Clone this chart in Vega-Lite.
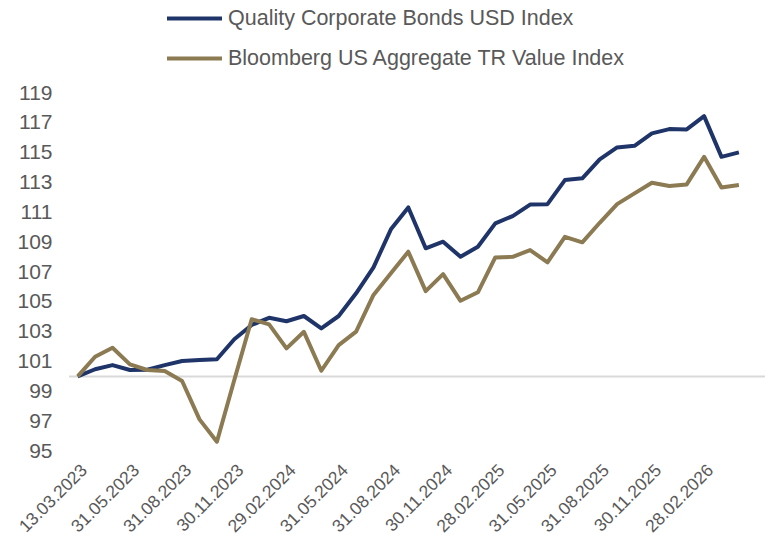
{
  "$schema": "https://vega.github.io/schema/vega-lite/v6.json",
  "width": 696,
  "height": 358,
  "autosize": "none",
  "padding": {"left": 69, "top": 93, "right": 8, "bottom": 88},
  "background": "white",
  "config": {"font": "Liberation Sans", "view": {"stroke": null}, "axis": {"labelOverlap": false}},
  "layer": [
    {
      "data": {"values": [{"base": 100}]},
      "mark": {"type": "rule", "color": "#d9d9d9", "strokeWidth": 2},
      "encoding": {"y": {"field": "base", "type": "quantitative", "scale": {"domain": [95, 119], "nice": false, "zero": false},
        "axis": {
            "values": [95,97,99,101,103,105,107,109,111,113,115,117,119],
            "grid": false, "domain": false, "ticks": false, "labelOverlap": false,
            "labelFontSize": 21, "labelColor": "#595959", "labelPadding": 17, "title": null
          }}}
    },
    {
      "data": {"values": [
        {"date": "13.03.2023", "series": "Quality Corporate Bonds USD Index", "value": 100},
        {"date": "31.03.2023", "series": "Quality Corporate Bonds USD Index", "value": 100.48},
        {"date": "30.04.2023", "series": "Quality Corporate Bonds USD Index", "value": 100.76},
        {"date": "31.05.2023", "series": "Quality Corporate Bonds USD Index", "value": 100.43},
        {"date": "30.06.2023", "series": "Quality Corporate Bonds USD Index", "value": 100.45},
        {"date": "31.07.2023", "series": "Quality Corporate Bonds USD Index", "value": 100.76},
        {"date": "31.08.2023", "series": "Quality Corporate Bonds USD Index", "value": 101.03},
        {"date": "30.09.2023", "series": "Quality Corporate Bonds USD Index", "value": 101.1},
        {"date": "31.10.2023", "series": "Quality Corporate Bonds USD Index", "value": 101.15},
        {"date": "30.11.2023", "series": "Quality Corporate Bonds USD Index", "value": 102.49},
        {"date": "31.12.2023", "series": "Quality Corporate Bonds USD Index", "value": 103.45},
        {"date": "31.01.2024", "series": "Quality Corporate Bonds USD Index", "value": 103.93},
        {"date": "29.02.2024", "series": "Quality Corporate Bonds USD Index", "value": 103.7},
        {"date": "31.03.2024", "series": "Quality Corporate Bonds USD Index", "value": 104.05},
        {"date": "30.04.2024", "series": "Quality Corporate Bonds USD Index", "value": 103.22},
        {"date": "31.05.2024", "series": "Quality Corporate Bonds USD Index", "value": 104.05},
        {"date": "30.06.2024", "series": "Quality Corporate Bonds USD Index", "value": 105.57},
        {"date": "31.07.2024", "series": "Quality Corporate Bonds USD Index", "value": 107.31},
        {"date": "31.08.2024", "series": "Quality Corporate Bonds USD Index", "value": 109.86},
        {"date": "30.09.2024", "series": "Quality Corporate Bonds USD Index", "value": 111.33},
        {"date": "31.10.2024", "series": "Quality Corporate Bonds USD Index", "value": 108.59},
        {"date": "30.11.2024", "series": "Quality Corporate Bonds USD Index", "value": 109.03},
        {"date": "31.12.2024", "series": "Quality Corporate Bonds USD Index", "value": 108.02},
        {"date": "31.01.2025", "series": "Quality Corporate Bonds USD Index", "value": 108.69},
        {"date": "28.02.2025", "series": "Quality Corporate Bonds USD Index", "value": 110.26},
        {"date": "31.03.2025", "series": "Quality Corporate Bonds USD Index", "value": 110.75},
        {"date": "30.04.2025", "series": "Quality Corporate Bonds USD Index", "value": 111.52},
        {"date": "31.05.2025", "series": "Quality Corporate Bonds USD Index", "value": 111.55},
        {"date": "30.06.2025", "series": "Quality Corporate Bonds USD Index", "value": 113.16},
        {"date": "31.07.2025", "series": "Quality Corporate Bonds USD Index", "value": 113.28},
        {"date": "31.08.2025", "series": "Quality Corporate Bonds USD Index", "value": 114.55},
        {"date": "30.09.2025", "series": "Quality Corporate Bonds USD Index", "value": 115.35},
        {"date": "31.10.2025", "series": "Quality Corporate Bonds USD Index", "value": 115.46},
        {"date": "30.11.2025", "series": "Quality Corporate Bonds USD Index", "value": 116.29},
        {"date": "31.12.2025", "series": "Quality Corporate Bonds USD Index", "value": 116.58},
        {"date": "31.01.2026", "series": "Quality Corporate Bonds USD Index", "value": 116.56},
        {"date": "28.02.2026", "series": "Quality Corporate Bonds USD Index", "value": 117.45},
        {"date": "31.03.2026", "series": "Quality Corporate Bonds USD Index", "value": 114.72},
        {"date": "30.04.2026", "series": "Quality Corporate Bonds USD Index", "value": 115.02},
        {"date": "13.03.2023", "series": "Bloomberg US Aggregate TR Value Index", "value": 100},
        {"date": "31.03.2023", "series": "Bloomberg US Aggregate TR Value Index", "value": 101.32},
        {"date": "30.04.2023", "series": "Bloomberg US Aggregate TR Value Index", "value": 101.92},
        {"date": "31.05.2023", "series": "Bloomberg US Aggregate TR Value Index", "value": 100.81},
        {"date": "30.06.2023", "series": "Bloomberg US Aggregate TR Value Index", "value": 100.43},
        {"date": "31.07.2023", "series": "Bloomberg US Aggregate TR Value Index", "value": 100.36},
        {"date": "31.08.2023", "series": "Bloomberg US Aggregate TR Value Index", "value": 99.69},
        {"date": "30.09.2023", "series": "Bloomberg US Aggregate TR Value Index", "value": 97.12},
        {"date": "31.10.2023", "series": "Bloomberg US Aggregate TR Value Index", "value": 95.62},
        {"date": "30.11.2023", "series": "Bloomberg US Aggregate TR Value Index", "value": 99.76},
        {"date": "31.12.2023", "series": "Bloomberg US Aggregate TR Value Index", "value": 103.83},
        {"date": "31.01.2024", "series": "Bloomberg US Aggregate TR Value Index", "value": 103.49},
        {"date": "29.02.2024", "series": "Bloomberg US Aggregate TR Value Index", "value": 101.88},
        {"date": "31.03.2024", "series": "Bloomberg US Aggregate TR Value Index", "value": 102.99},
        {"date": "30.04.2024", "series": "Bloomberg US Aggregate TR Value Index", "value": 100.38},
        {"date": "31.05.2024", "series": "Bloomberg US Aggregate TR Value Index", "value": 102.1},
        {"date": "30.06.2024", "series": "Bloomberg US Aggregate TR Value Index", "value": 103.0},
        {"date": "31.07.2024", "series": "Bloomberg US Aggregate TR Value Index", "value": 105.46},
        {"date": "31.08.2024", "series": "Bloomberg US Aggregate TR Value Index", "value": 106.91},
        {"date": "30.09.2024", "series": "Bloomberg US Aggregate TR Value Index", "value": 108.36},
        {"date": "31.10.2024", "series": "Bloomberg US Aggregate TR Value Index", "value": 105.72},
        {"date": "30.11.2024", "series": "Bloomberg US Aggregate TR Value Index", "value": 106.86},
        {"date": "31.12.2024", "series": "Bloomberg US Aggregate TR Value Index", "value": 105.07},
        {"date": "31.01.2025", "series": "Bloomberg US Aggregate TR Value Index", "value": 105.64},
        {"date": "28.02.2025", "series": "Bloomberg US Aggregate TR Value Index", "value": 107.98},
        {"date": "31.03.2025", "series": "Bloomberg US Aggregate TR Value Index", "value": 108.02},
        {"date": "30.04.2025", "series": "Bloomberg US Aggregate TR Value Index", "value": 108.47},
        {"date": "31.05.2025", "series": "Bloomberg US Aggregate TR Value Index", "value": 107.65},
        {"date": "30.06.2025", "series": "Bloomberg US Aggregate TR Value Index", "value": 109.36},
        {"date": "31.07.2025", "series": "Bloomberg US Aggregate TR Value Index", "value": 108.99},
        {"date": "31.08.2025", "series": "Bloomberg US Aggregate TR Value Index", "value": 110.3},
        {"date": "30.09.2025", "series": "Bloomberg US Aggregate TR Value Index", "value": 111.55},
        {"date": "31.10.2025", "series": "Bloomberg US Aggregate TR Value Index", "value": 112.27},
        {"date": "30.11.2025", "series": "Bloomberg US Aggregate TR Value Index", "value": 112.98},
        {"date": "31.12.2025", "series": "Bloomberg US Aggregate TR Value Index", "value": 112.76},
        {"date": "31.01.2026", "series": "Bloomberg US Aggregate TR Value Index", "value": 112.87},
        {"date": "28.02.2026", "series": "Bloomberg US Aggregate TR Value Index", "value": 114.72},
        {"date": "31.03.2026", "series": "Bloomberg US Aggregate TR Value Index", "value": 112.67},
        {"date": "30.04.2026", "series": "Bloomberg US Aggregate TR Value Index", "value": 112.83}
      ]},
      "mark": {"type": "line", "strokeWidth": 4, "strokeJoin": "round"},
      "encoding": {
        "x": {
          "field": "date", "type": "ordinal",
          "scale": {"padding": 0.5, "domain": ["13.03.2023","31.03.2023","30.04.2023","31.05.2023","30.06.2023","31.07.2023","31.08.2023","30.09.2023","31.10.2023","30.11.2023","31.12.2023","31.01.2024","29.02.2024","31.03.2024","30.04.2024","31.05.2024","30.06.2024","31.07.2024","31.08.2024","30.09.2024","31.10.2024","30.11.2024","31.12.2024","31.01.2025","28.02.2025","31.03.2025","30.04.2025","31.05.2025","30.06.2025","31.07.2025","31.08.2025","30.09.2025","31.10.2025","30.11.2025","31.12.2025","31.01.2026","28.02.2026","31.03.2026","30.04.2026","31.05.2026"]},
          "axis": {
            "values": ["13.03.2023","31.05.2023","31.08.2023","30.11.2023","29.02.2024","31.05.2024","31.08.2024","30.11.2024","28.02.2025","31.05.2025","31.08.2025","30.11.2025","28.02.2026"],
            "labelAngle": -45, "domain": false, "ticks": false, "grid": false, "labelOverlap": false,
            "labelFontSize": 17.5, "labelColor": "#595959", "title": null, "labelPadding": 10
          }
        },
        "y": {
          "field": "value", "type": "quantitative",
          "scale": {"domain": [95, 119], "nice": false, "zero": false},
          "axis": {
            "values": [95,97,99,101,103,105,107,109,111,113,115,117,119],
            "grid": false, "domain": false, "ticks": false, "labelOverlap": false,
            "labelFontSize": 21, "labelColor": "#595959", "labelPadding": 17, "title": null
          }
        },
        "color": {
          "field": "series", "type": "nominal",
          "scale": {"domain": ["Quality Corporate Bonds USD Index", "Bloomberg US Aggregate TR Value Index"], "range": ["#1f3468", "#8b7a52"]},
          "legend": {
            "orient": "none", "legendX": 96, "legendY": -104, "title": null,
            "symbolType": "stroke", "symbolSize": 3025, "symbolStrokeWidth": 4,
            "labelFontSize": 21.5, "labelColor": "#595959", "labelOffset": 4, "labelLimit": 700, "rowPadding": -19
          }
        }
      }
    }
  ]
}
